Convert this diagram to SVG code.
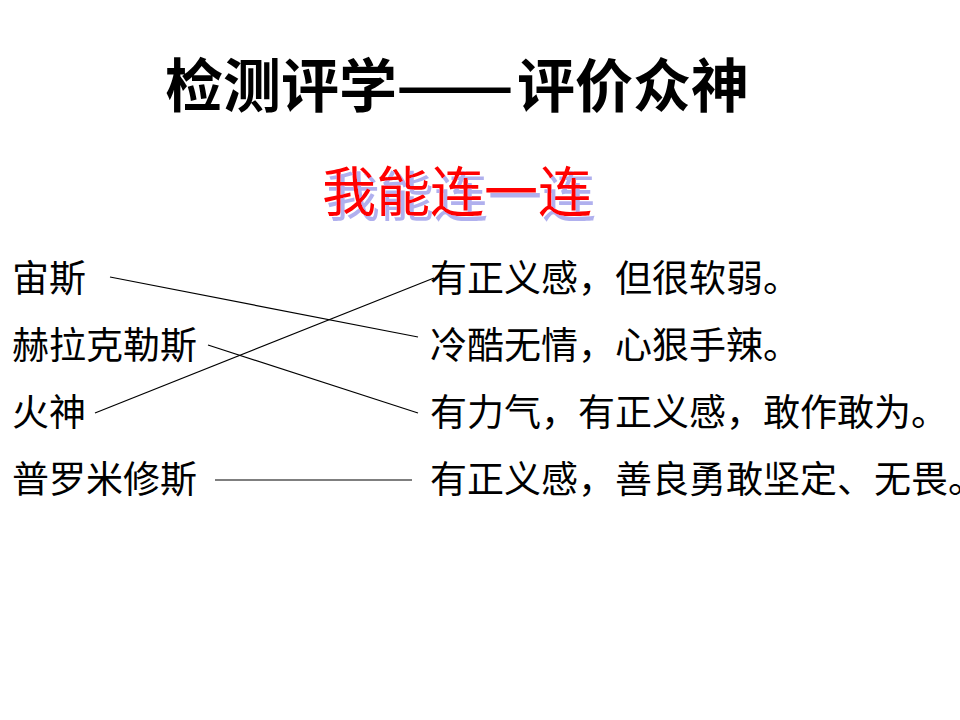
<svg xmlns="http://www.w3.org/2000/svg" width="960" height="720" viewBox="0 0 960 720">
<defs>
<filter id="shadow" x="-5%" y="-10%" width="115%" height="130%">
<feOffset in="SourceAlpha" dx="4" dy="5" result="off"/>
<feFlood flood-color="#b0b0ee"/>
<feComposite in2="off" operator="in" result="sh"/>
<feMerge><feMergeNode in="sh"/><feMergeNode in="SourceGraphic"/></feMerge>
</filter>
</defs>
<style>
.t{font-family:"Noto Sans CJK SC","Noto Sans CJK JP",sans-serif;fill:#000}
.title{font-size:58px;font-weight:bold}
.sub{font-size:54px;fill:#ff0000}
.item{font-size:37px}
.conn line{stroke:#000;stroke-width:1.2}
</style>
<rect width="960" height="720" fill="#fff"/>
<g id="title">
<text class="t title" x="165" y="107">检测评学</text>
<text class="t title" x="396" y="107" textLength="118" lengthAdjust="spacingAndGlyphs">——</text>
<text class="t title" x="517" y="107">评价众神</text>
</g>
<g id="subtitle"><text class="t sub" x="322" y="212" filter="url(#shadow)">我能连一连</text></g>
<g id="left-zeus"><text class="t item" x="12" y="292">宙斯</text></g>
<g id="left-heracles"><text class="t item" x="12" y="359">赫拉克勒斯</text></g>
<g id="left-hephaestus"><text class="t item" x="12" y="426">火神</text></g>
<g id="left-prometheus"><text class="t item" x="12" y="493">普罗米修斯</text></g>
<g id="right-1"><text class="t item" x="430" y="292">有正义感，但很软弱。</text></g>
<g id="right-2"><text class="t item" x="430" y="359">冷酷无情，心狠手辣。</text></g>
<g id="right-3"><text class="t item" x="430" y="426">有力气，有正义感，敢作敢为。</text></g>
<g id="right-4"><text class="t item" x="430" y="493">有正义感，善良勇敢坚定、无畏。</text></g>
<g id="connectors" class="conn">
<line x1="110" y1="277" x2="418" y2="337"/>
<line x1="208" y1="345" x2="418" y2="413"/>
<line x1="95" y1="413" x2="434" y2="278"/>
<line x1="215" y1="480" x2="412" y2="480"/>
</g>
</svg>
